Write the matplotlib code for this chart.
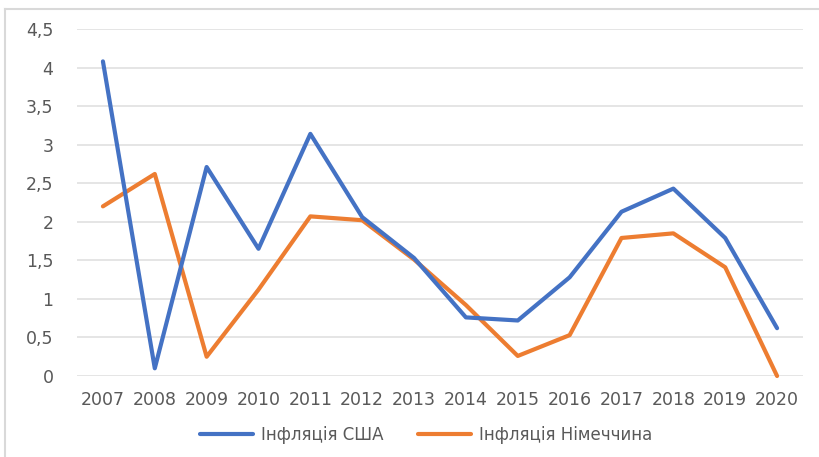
import matplotlib
matplotlib.use("Agg")
import matplotlib.pyplot as plt
from matplotlib.lines import Line2D

plt.rcParams["font.family"] = ["DejaVu Sans"]

years = ["2007", "2008", "2009", "2010", "2011", "2012", "2013",
         "2014", "2015", "2016", "2017", "2018", "2019", "2020"]
usa = [4.08, 0.10, 2.71, 1.65, 3.14, 2.06, 1.53,
       0.76, 0.72, 1.28, 2.13, 2.43, 1.79, 0.62]
germany = [2.20, 2.62, 0.25, 1.12, 2.07, 2.02, 1.51,
           0.92, 0.26, 0.53, 1.79, 1.85, 1.41, 0.00]
y_ticks = [0, 0.5, 1, 1.5, 2, 2.5, 3, 3.5, 4, 4.5]
y_tick_labels = ["0", "0,5", "1", "1,5", "2", "2,5", "3", "3,5", "4", "4,5"]
series_names = ["Інфляція США", "Інфляція Німеччина"]

W, H = 820, 457
fig = plt.figure(figsize=(W / 100, H / 100), dpi=100)
fig.patch.set_facecolor("white")

ax = fig.add_axes([77 / W, 1 - 376 / H, (803 - 77) / W, (376 - 29) / H])
x = range(len(years))
text_color = "#595959"
blue = "#4472C4"
orange = "#ED7D31"

for yt in y_ticks:
    ax.axhline(yt, color="#E3E3E3", lw=1.3, zorder=1)

l1, = ax.plot(x, usa, color=blue, lw=3.0, solid_capstyle="round",
              solid_joinstyle="round", zorder=3, clip_on=False)
l2, = ax.plot(x, germany, color=orange, lw=3.0, solid_capstyle="round",
              solid_joinstyle="round", zorder=2, clip_on=False)

ax.set_xlim(-0.5, len(years) - 0.5)
ax.set_ylim(0, 4.5)
ax.set_xticks(list(x))
ax.set_xticklabels(years)
ax.set_yticks(y_ticks)
ax.set_yticklabels(y_tick_labels)
ax.tick_params(axis="both", length=0, labelsize=12.5, colors=text_color)
ax.tick_params(axis="x", pad=11)
ax.tick_params(axis="y", pad=17)
for s in ax.spines.values():
    s.set_visible(False)
ax.set_facecolor("white")

fig.legend([l1, l2], series_names, loc="center",
           bbox_to_anchor=(426 / W, 1 - 435 / H), ncol=2, frameon=False,
           fontsize=12, labelcolor=text_color, handlelength=3.2,
           handletextpad=0.45, columnspacing=2.1)

# outer chart frame (left and top edges)
frame_color = "#D9D9D9"
fig.add_artist(Line2D([5.5 / W, 5.5 / W], [0, 1 - 8.5 / H],
                      transform=fig.transFigure, color=frame_color, lw=1.5))
fig.add_artist(Line2D([5.5 / W, 1], [1 - 8.5 / H, 1 - 8.5 / H],
                      transform=fig.transFigure, color=frame_color, lw=1.5))

fig.savefig("out.png", dpi=100)
